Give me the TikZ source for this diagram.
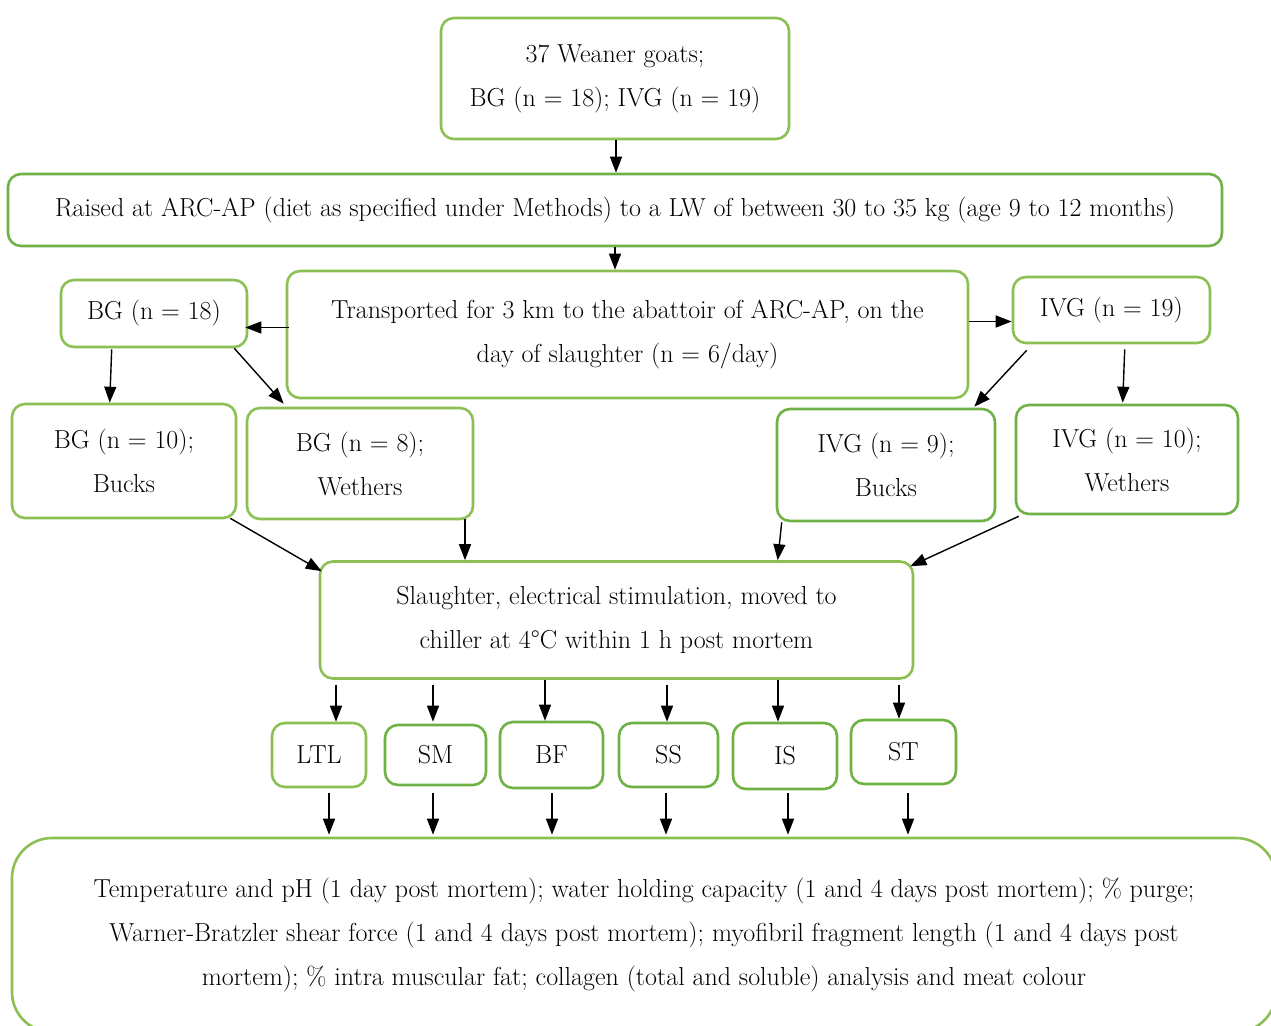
\documentclass[tikz,border=0pt]{standalone}
\usetikzlibrary{arrows.meta,calc}
\definecolor{boxgreen}{RGB}{140,192,84}
\definecolor{boxgreenD}{RGB}{110,178,70}
\tikzset{
  box/.style={draw=boxgreen, line width=2.6pt, rounded corners=13pt, align=center, inner sep=0pt,
    font=\fontsize{26}{44}\selectfont},
  boxd/.style={box, draw=boxgreenD},
  arr/.style={line width=1.4pt, -{Triangle[length=16pt,width=12pt]}},
}
\begin{document}
\begin{tikzpicture}[x=1pt,y=-1pt]
\clip (0,0) rectangle (1271,1025);
\fill[white] (0,0) rectangle (1271,1025);

\node[box, minimum width=348pt, minimum height=121pt] (top) at (615,78.5) {37 Weaner goats;\\BG (n = 18); IVG (n = 19)};
\node[boxd, minimum width=1214pt, minimum height=72pt] (raised) at (615,210) {Raised at ARC-AP (diet as specified under Methods) to a LW of between 30 to 35 kg (age 9 to 12 months)};
\node[box, minimum width=681pt, minimum height=127pt] (trans) at (627.5,334.5) {Transported for 3 km to the abattoir of ARC-AP, on the\\day of slaughter (n = 6/day)};
\node[box, minimum width=186pt, minimum height=67pt] (bg18) at (154,313.5) {BG (n = 18)};
\node[box, minimum width=197pt, minimum height=66pt] (ivg19) at (1111.5,310) {IVG (n = 19)};
\node[box, minimum width=224pt, minimum height=114pt] (bg10) at (124,461) {BG (n = 10);\\Bucks};
\node[box, minimum width=226pt, minimum height=111pt] (bg8) at (360,463.5) {BG (n = 8);\\Wethers};
\node[boxd, minimum width=218pt, minimum height=112pt] (ivg9) at (886,465) {IVG (n = 9);\\Bucks};
\node[boxd, minimum width=222pt, minimum height=109pt] (ivg10) at (1127,459.5) {IVG (n = 10);\\Wethers};
\node[box, minimum width=593pt, minimum height=117pt] (sl) at (616.5,620) {Slaughter, electrical stimulation, moved to\\chiller at 4\textdegree C within 1 h post mortem};

\node[box, minimum width=94pt, minimum height=64pt] (ltl) at (319,755) {LTL};
\node[boxd, minimum width=101pt, minimum height=60pt] (sm) at (435.5,755) {SM};
\node[boxd, minimum width=103pt, minimum height=66pt] (bf) at (551.5,755) {BF};
\node[boxd, minimum width=99pt, minimum height=64pt] (ss) at (668.5,755) {SS};
\node[boxd, minimum width=104pt, minimum height=66pt] (is) at (785,756) {IS};
\node[boxd, minimum width=105pt, minimum height=64pt] (st) at (903.5,752) {ST};

\node[box, rounded corners=40pt, minimum width=1264pt, minimum height=194pt] (out) at (644,935)
 {Temperature and pH (1 day post mortem); water holding capacity (1 and 4 days post mortem); \% purge;\\
  Warner-Bratzler shear force (1 and 4 days post mortem); myofibril fragment length (1 and 4 days post\\
  mortem); \% intra muscular fat; collagen (total and soluble) analysis and meat colour};

% arrows
\draw[arr] ($(top.south)+(1,0)$) -- ($(raised.north)+(1,0)$);
\draw[arr] (raised.south) -- (trans.north -| raised.south);
\draw[arr] ($(trans.west)+(3,-7)$) -- ($(bg18.east)+(-3,14)$);
\draw[arr] ($(trans.east)+(0,-13)$) -- ($(ivg19.west)+(0,11.5)$);
\draw[arr] ($(bg18.south west)+(52,1)$) -- ($(bg10.north west)+(99,0)$);
\draw[arr] ($(bg18.south east)+(-14,0)$) -- ($(bg8.north west)+(38,-3)$);
\draw[arr] ($(ivg19.south west)+(15,6)$) -- ($(ivg9.north east)+(-22,-1)$);
\draw[arr] ($(ivg19.south west)+(113,5)$) -- ($(ivg10.north west)+(108,-1)$);
\draw[arr] ($(bg10.south east)+(-7,-1)$) -- ($(sl.north west)+(3,11)$);
\draw[arr] ($(bg8.south east)+(-9.3,-1)$) -- ($(sl.north west)+(146.3,0)$);
\draw[arr] ($(ivg9.south west)+(6,0)$) -- ($(sl.north west)+(459,0)$);
\draw[arr] ($(ivg10.south west)+(4,1)$) -- ($(sl.north east)+(-4,6)$);

\draw[arr] ($(sl.south west)+(17.3,4.7)$) -- ($(ltl.north)+(17,0)$);
\draw[arr] ($(sl.south west)+(114.3,4.7)$) -- ($(sm.north)+(-2.5,-2)$);
\draw[arr] ($(sl.south west)+(226.3,0)$) -- ($(bf.north)+(-6.5,0)$);
\draw[arr] ($(sl.south west)+(348.3,4.7)$) -- ($(ss.north)+(-1.5,0)$);
\draw[arr] ($(sl.south west)+(459.3,0)$) -- ($(is.north)+(-7,0)$);
\draw[arr] ($(sl.south west)+(580.3,4.7)$) -- ($(st.north)+(-4.5,0)$);

\draw[arr] ($(ltl.south)+(10,5)$) -- ($(out.north west)+(318.3,-2)$);
\draw[arr] ($(sm.south)+(-2.5,7)$) -- ($(out.north west)+(422.3,-2)$);
\draw[arr] ($(bf.south)+(0.5,4)$) -- ($(out.north west)+(541.3,-2)$);
\draw[arr] ($(ss.south)+(-2.5,5)$) -- ($(out.north west)+(655.3,-2)$);
\draw[arr] ($(is.south)+(3,3)$) -- ($(out.north west)+(777.3,-2)$);
\draw[arr] ($(st.south)+(4.5,8)$) -- ($(out.north west)+(897.3,-2)$);
\end{tikzpicture}
\end{document}
